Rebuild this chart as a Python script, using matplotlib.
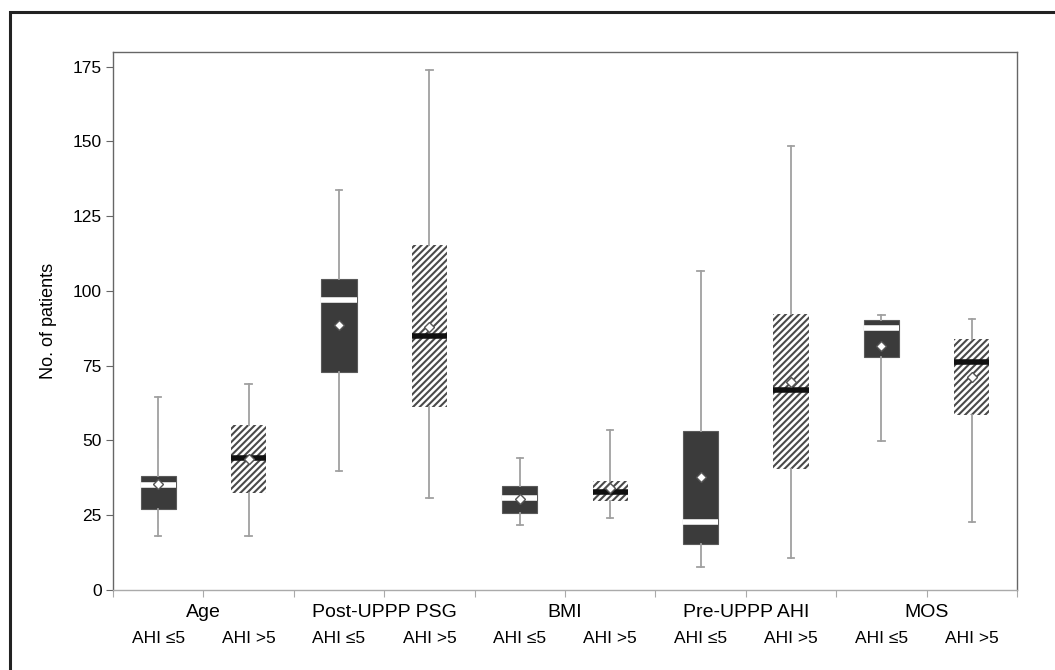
import matplotlib
matplotlib.use("Agg")
import matplotlib.pyplot as plt
from matplotlib.patches import Rectangle

plt.rcParams['font.family'] = ['Liberation Sans', 'DejaVu Sans']
plt.rcParams['hatch.linewidth'] = 1.5

groups = ["Age", "Post-UPPP PSG", "BMI", "Pre-UPPP AHI", "MOS"]
sub_labels = ["AHI \u22645", "AHI >5"]

# per box: AHI<=5 and AHI>5 of each group
whis_lo = [18.0, 18.1, 39.8, 30.8, 21.8, 24.2, 7.6, 10.8, 49.7, 22.8]
q1 = [27.0, 32.5, 72.9, 61.2, 25.9, 29.7, 15.3, 40.4, 77.8, 58.6]
medians = [35.1, 44.1, 97.0, 84.9, 30.9, 32.9, 22.8, 66.9, 87.7, 76.3]
q3 = [38.2, 55.1, 104.1, 115.3, 34.7, 36.5, 53.3, 92.2, 90.2, 83.9]
whis_hi = [64.5, 68.8, 133.7, 173.8, 44.1, 53.4, 106.7, 148.5, 91.9, 90.6]
means = [35.6, 43.7, 88.6, 88.1, 30.3, 34.2, 37.9, 69.6, 81.6, 71.2]

fig = plt.figure(figsize=(10.55, 6.7), dpi=100)
ax = fig.add_axes([0.1071, 0.1194, 0.8569, 0.8034])

stats = []
for i in range(len(medians)):
    stats.append(dict(whislo=whis_lo[i], q1=q1[i], med=medians[i], q3=q3[i],
                      whishi=whis_hi[i], mean=means[i]))

pos = list(range(len(stats)))
bp = ax.bxp(stats, positions=pos, widths=0.39, patch_artist=True,
            showmeans=True, showfliers=False, capwidths=0.07,
            whiskerprops=dict(color="#a0a0a0", linewidth=1.3),
            capprops=dict(color="#a0a0a0", linewidth=1.3),
            meanprops=dict(marker="D", markerfacecolor="white",
                           markeredgecolor="#555555", markersize=5.5,
                           markeredgewidth=1.0))

for i, box in enumerate(bp["boxes"]):
    if i % 2 == 0:
        box.set_facecolor("#3b3b3b")
        box.set_edgecolor("#5a5a5a")
        box.set_linewidth(0.8)
        bp["medians"][i].set_color("white")
    else:
        box.set_facecolor("white")
        box.set_edgecolor("#4a4a4a")
        box.set_hatch("/////")
        box.set_linewidth(0)
        bp["medians"][i].set_color("#111111")
    bp["medians"][i].set_linewidth(4.0)
    bp["medians"][i].set_solid_capstyle("butt")
    bp["means"][i].set_zorder(5)

ax.set_xlim(-0.5, 9.5)
ax.set_ylim(0, 180)
ax.set_yticks([0, 25, 50, 75, 100, 125, 150, 175])
ax.set_xticks([x - 0.5 for x in range(11)])
ax.set_xticklabels([])
ax.tick_params(axis="y", labelsize=12.5, length=5, color="#666666", pad=3)
ax.tick_params(axis="x", length=5, color="#aaaaaa")
ax.set_ylabel("No. of patients", fontsize=13, labelpad=11)

for side in ["left", "bottom", "right", "top"]:
    ax.spines[side].set_linewidth(1.0)
ax.spines["left"].set_color("#666666")
ax.spines["top"].set_color("#666666")
ax.spines["right"].set_color("#666666")
ax.spines["bottom"].set_color("#aaaaaa")

trans = ax.get_xaxis_transform()
for g, name in enumerate(groups):
    ax.text(2 * g + 0.5, -0.042, name, transform=trans, ha="center", va="center",
            fontsize=14)
    for k in range(2):
        ax.text(2 * g + k, -0.09, sub_labels[k], transform=trans, ha="center",
                va="center", fontsize=12.5)

# outer frame around the figure, partly cut off on right and bottom
fig.patches.append(Rectangle((10 / 1055, -0.05), 1.2, 1 - 12 / 670 + 0.05,
                             transform=fig.transFigure, fill=False,
                             edgecolor="#222222", linewidth=2.2))

fig.savefig("out.png", dpi=100)
